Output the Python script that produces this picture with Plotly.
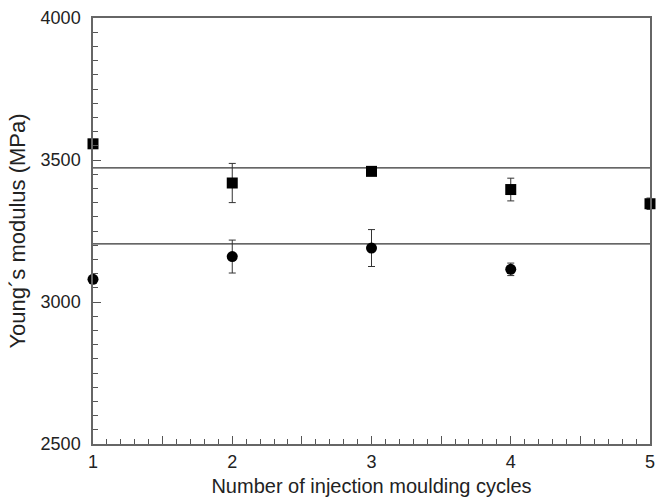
import plotly.graph_objects as go

cycles_sq = [1, 2, 3, 4, 5]
modulus_sq = [3557, 3419, 3460, 3396, 3346]
err_sq = [0, 69, 10, 40, 20]

cycles_ci = [1, 2, 3, 4]
modulus_ci = [3080, 3160, 3190, 3115]
err_ci = [0, 58, 65, 22]

mean_sq = 3472
mean_ci = 3205
x_range = [1, 5]

x_tickvals = [1, 1.5, 2, 2.5, 3, 3.5, 4, 4.5, 5]
x_ticktext = ["1", "", "2", "", "3", "", "4", "", "5"]
y_tickvals = [2500, 3000, 3500, 4000]

fig = go.Figure()
fig.add_trace(go.Scatter(x=x_range, y=[mean_sq, mean_sq], mode="lines",
                         line=dict(color="#333333", width=1.2), showlegend=False))
fig.add_trace(go.Scatter(x=x_range, y=[mean_ci, mean_ci], mode="lines",
                         line=dict(color="#333333", width=1.2), showlegend=False))
fig.add_trace(go.Scatter(x=cycles_sq, y=modulus_sq, mode="markers",
                         marker=dict(symbol="square", size=11, color="black"),
                         error_y=dict(type="data", array=err_sq, color="#333333", thickness=1, width=3.5),
                         cliponaxis=False, showlegend=False))
fig.add_trace(go.Scatter(x=cycles_ci, y=modulus_ci, mode="markers",
                         marker=dict(symbol="circle", size=11, color="black"),
                         error_y=dict(type="data", array=err_ci, color="#333333", thickness=1, width=3.5),
                         cliponaxis=False, showlegend=False))

axis_common = dict(showline=True, linecolor="#666666", linewidth=1.5, mirror=True,
                   showgrid=False, zeroline=False, ticks="inside", tickcolor="#555555",
                   tickfont=dict(family="Liberation Sans, Arial", size=18, color="#222222"))

fig.update_xaxes(range=x_range, tickvals=x_tickvals, ticktext=x_ticktext, ticklen=8,
                 ticklabelstandoff=1,
                 minor=dict(dtick=0.1, ticks="inside", ticklen=5, tickcolor="#555555"),
                 title=dict(text="Number of injection moulding cycles",
                            font=dict(family="Liberation Sans, Arial", size=20, color="#222222"),
                            standoff=8),
                 **axis_common)
fig.update_yaxes(range=[2500, 4000], tickvals=y_tickvals, ticklen=8,
                 ticklabelstandoff=7,
                 minor=dict(dtick=50, ticks="inside", ticklen=5, tickcolor="#555555"),
                 title=dict(text="Young´s modulus (MPa)",
                            font=dict(family="Liberation Sans, Arial", size=22, color="#222222"),
                            standoff=9),
                 **axis_common)

fig.update_layout(width=661, height=500, margin=dict(l=93, r=6, t=18, b=55),
                  plot_bgcolor="white", paper_bgcolor="white")

fig.write_html("out.html")
